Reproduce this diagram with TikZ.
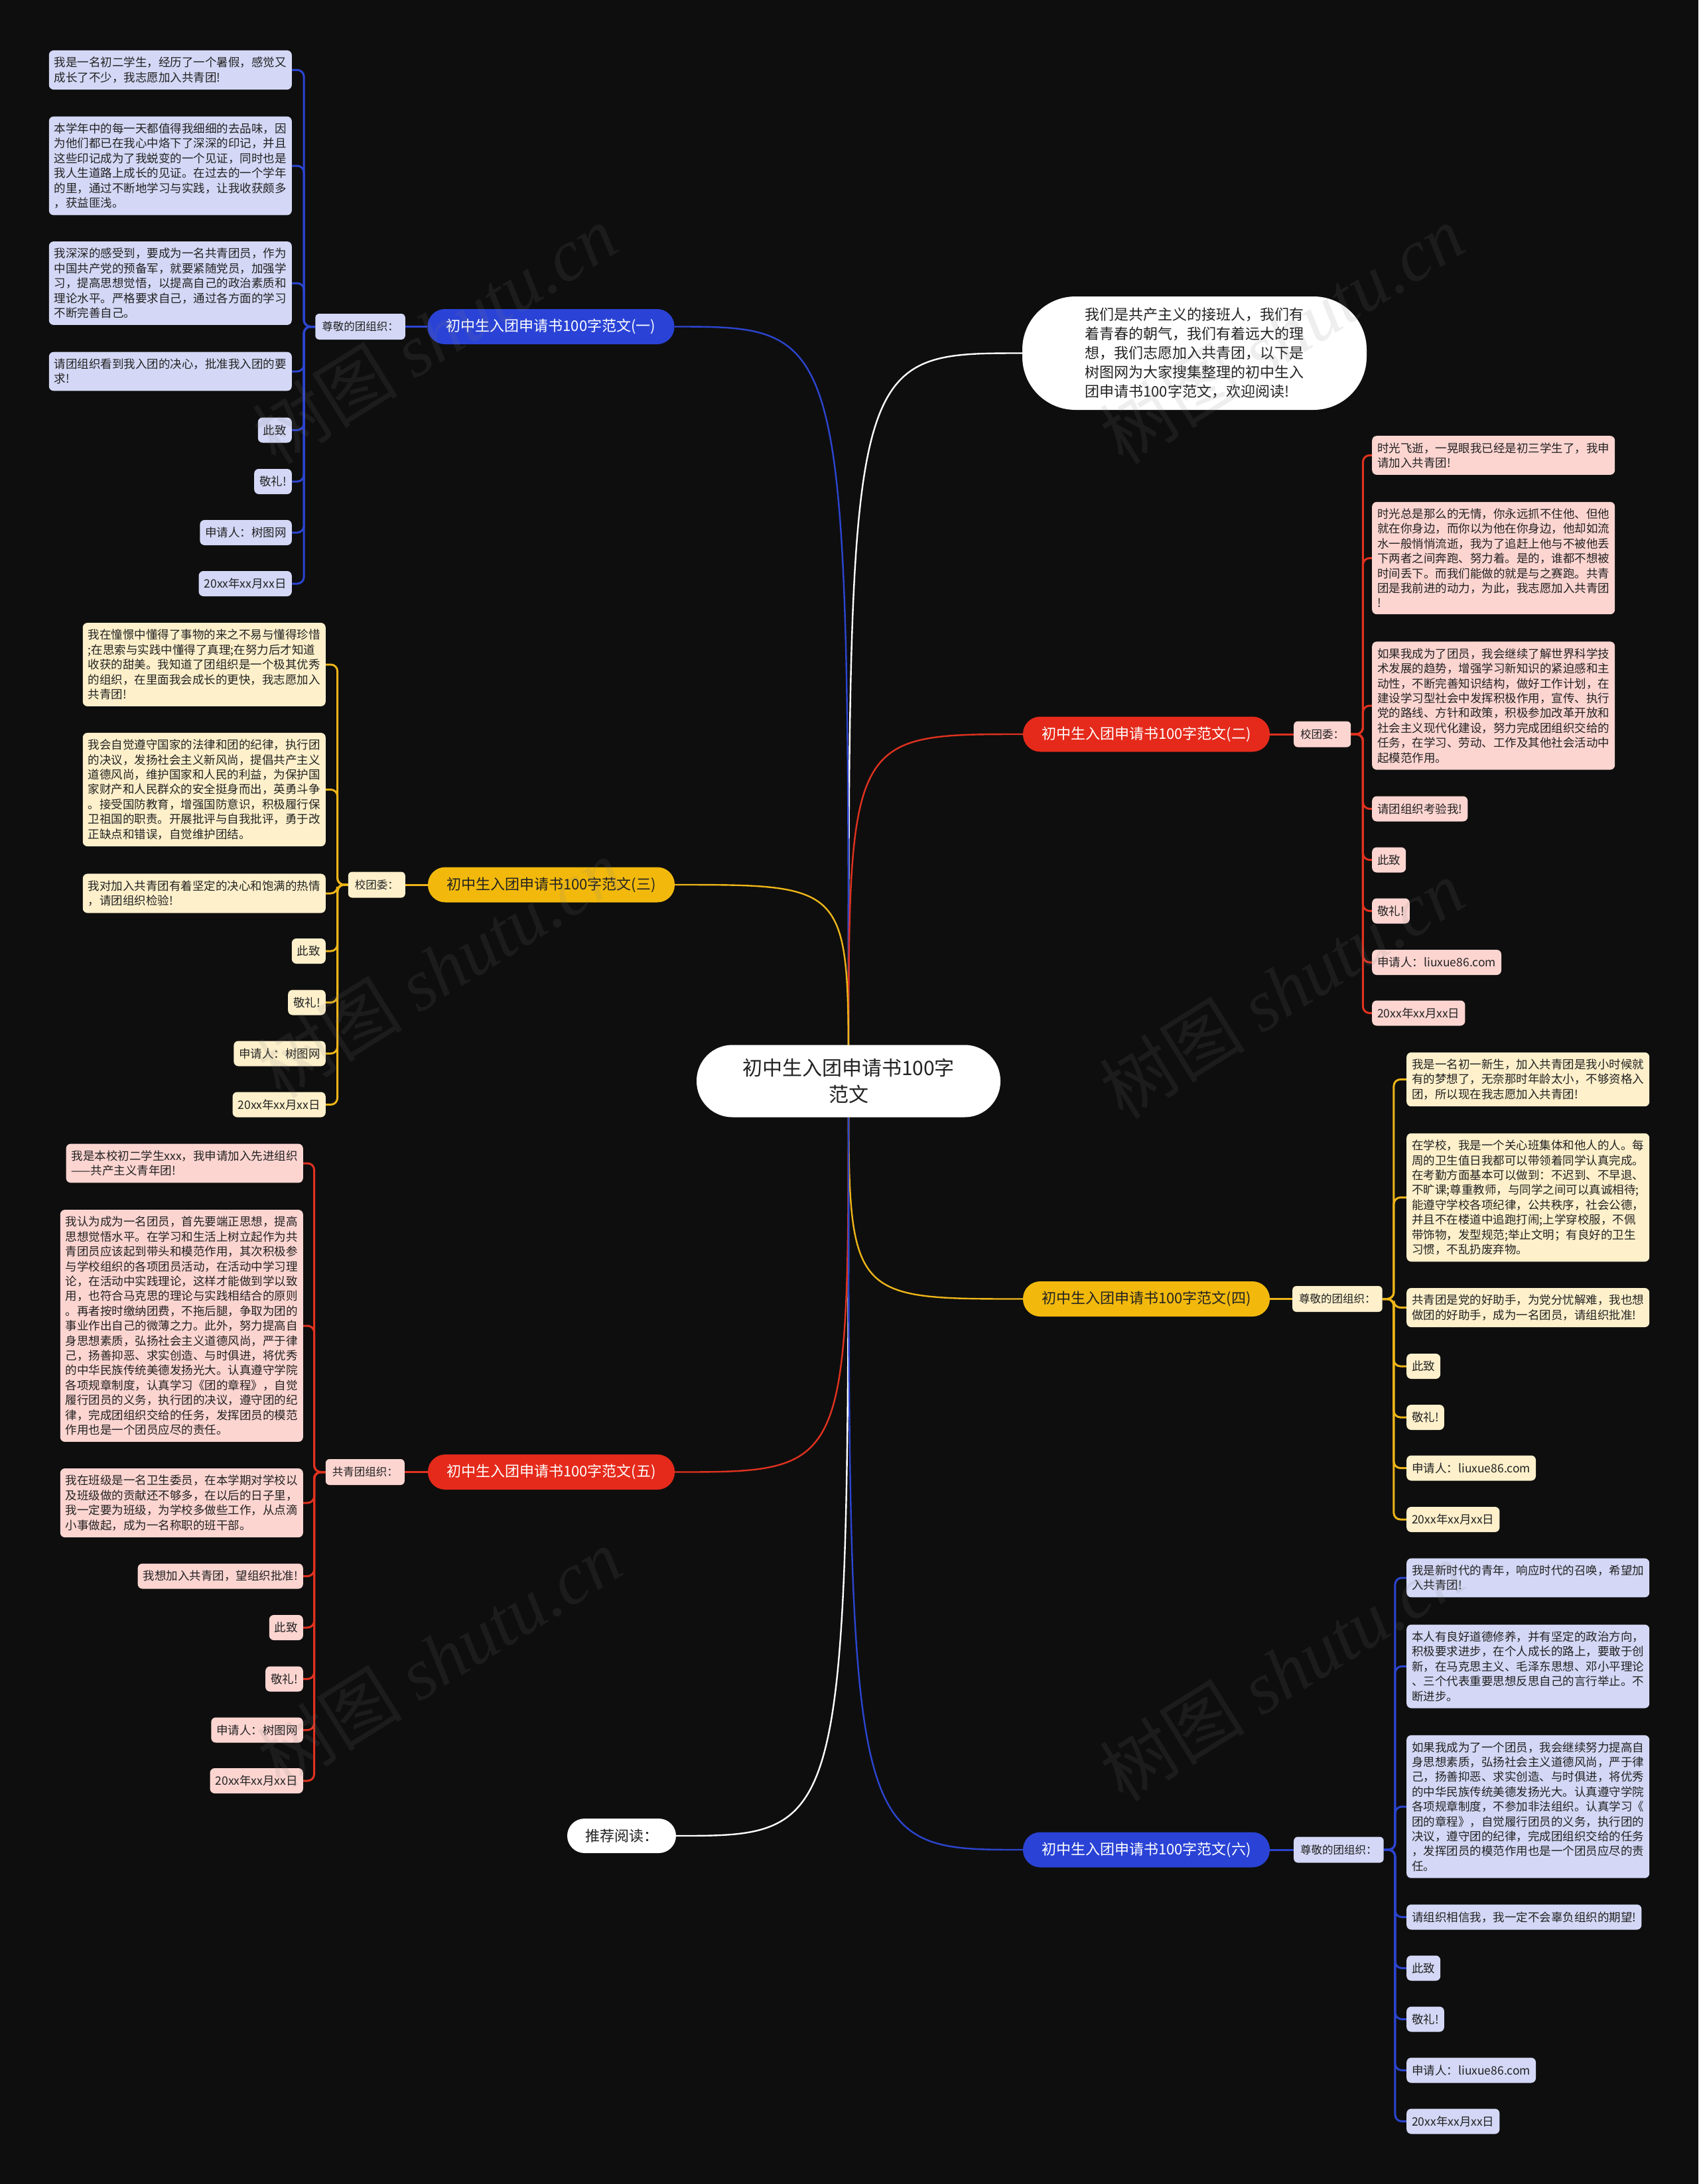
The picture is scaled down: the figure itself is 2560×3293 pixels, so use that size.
\documentclass[tikz,border=0pt]{standalone}
\usepackage{fontspec}
\setmainfont{Noto Sans CJK SC}
\newfontfamily\wmlatin{Liberation Serif}
\usetikzlibrary{calc}
\pgfdeclarelayer{bgl}
\pgfdeclarelayer{edgel}
\pgfdeclarelayer{wml}
\pgfsetlayers{bgl,edgel,main,wml}
\definecolor{bgc}{HTML}{0E0E0E}
\definecolor{bcol}{HTML}{2A43D6}
\definecolor{bline}{HTML}{2C45D0}
\definecolor{bfill}{HTML}{D4D8F6}
\definecolor{rcol}{HTML}{E52A1B}
\definecolor{rline}{HTML}{E0321F}
\definecolor{rfill}{HTML}{FCD5D1}
\definecolor{ycol}{HTML}{F2B90C}
\definecolor{yline}{HTML}{EDB518}
\definecolor{yfill}{HTML}{FDF0CB}
\definecolor{txt}{HTML}{222222}
\newcommand\lffont{\fontsize{17.5}{22.4}\selectfont}
\newcommand\sbfont{\fontsize{16.5}{20}\selectfont}
\newcommand\brfont{\fontsize{22}{26}\selectfont}
\newcommand\cnfont{\fontsize{30}{40}\selectfont}
\newcommand\infont{\fontsize{22}{29}\selectfont}
\newcommand\wmsize{\fontsize{110}{110}\selectfont}
\tikzset{
  leaf/.style={rounded corners=7, inner xsep=8, inner ysep=10, minimum height=38, align=left, font=\lffont, text=txt},
  bleaf/.style={leaf, fill=bfill},
  rleaf/.style={leaf, fill=rfill},
  yleaf/.style={leaf, fill=yfill},
  sub/.style={rounded corners=6, inner xsep=10, inner ysep=8, minimum height=39, font=\sbfont, text=txt},
  br/.style={rounded corners=26, minimum width=372, minimum height=53, font=\brfont},
  mline/.style={line width=2.4},
  lline/.style={line width=3, rounded corners=10},
  wm/.style={text=gray, opacity=0.13, rotate=32, font=\wmsize}
}
\begin{document}
\begin{tikzpicture}[x=1pt,y=-1pt]
\useasboundingbox (0,0) rectangle (2560,3293);
\begin{pgfonlayer}{bgl}
\fill[bgc] (0,0) rectangle (2560,3293);
\end{pgfonlayer}

% center, intro, recommended
\node[fill=white, rounded corners=54, minimum width=458, minimum height=109, align=center, font=\cnfont, text=txt] (c) at (1279,1630) {初中生入团申请书100字\\范文};
\node[fill=white, rounded corners=80, minimum width=519, minimum height=171, align=left, font=\infont, text=txt] (intro) at (1800.5,532.5) {我们是共产主义的接班人，我们有\\着青春的朝气，我们有着远大的理\\想，我们志愿加入共青团，以下是\\树图网为大家搜集整理的初中生入\\团申请书100字范文，欢迎阅读!};
\node[fill=white, rounded corners=26, minimum width=164, minimum height=52, font=\brfont, text=txt] (rec) at (937,2768) {推荐阅读：};

% branches
\node[br, fill=bcol, text=white] (b1) at (830.5,492.5) {初中生入团申请书100字范文(一)};
\node[br, fill=rcol, text=white] (b2) at (1728,1107) {初中生入团申请书100字范文(二)};
\node[br, fill=ycol, text=txt] (b3) at (831,1334) {初中生入团申请书100字范文(三)};
\node[br, fill=ycol, text=txt] (b4) at (1728,1958.5) {初中生入团申请书100字范文(四)};
\node[br, fill=rcol, text=white] (b5) at (831,2219.5) {初中生入团申请书100字范文(五)};
\node[br, fill=bcol, text=white] (b6) at (1728,2789) {初中生入团申请书100字范文(六)};

% sub nodes
\node[sub, fill=bfill, anchor=east] (s1) at (611,492.5) {尊敬的团组织：};
\node[sub, fill=rfill, anchor=west] (s2) at (1950,1107) {校团委：};
\node[sub, fill=yfill, anchor=east] (s3) at (611,1334) {校团委：};
\node[sub, fill=yfill, anchor=west] (s4) at (1948,1958.5) {尊敬的团组织：};
\node[sub, fill=rfill, anchor=east] (s5) at (610,2219.5) {共青团组织：};
\node[sub, fill=bfill, anchor=west] (s6) at (1950,2789) {尊敬的团组织：};

% branch (一)
\node[bleaf, anchor=east] (a1) at (440,105.5) {我是一名初二学生，经历了一个暑假，感觉又\\成长了不少，我志愿加入共青团!};
\node[bleaf, anchor=east] (a2) at (440,250) {本学年中的每一天都值得我细细的去品味，因\\为他们都已在我心中烙下了深深的印记，并且\\这些印记成为了我蜕变的一个见证，同时也是\\我人生道路上成长的见证。在过去的一个学年\\的里，通过不断地学习与实践，让我收获颇多\\，获益匪浅。};
\node[bleaf, anchor=east] (a3) at (440,427) {我深深的感受到，要成为一名共青团员，作为\\中国共产党的预备军，就要紧随党员，加强学\\习，提高思想觉悟，以提高自己的政治素质和\\理论水平。严格要求自己，通过各方面的学习\\不断完善自己。};
\node[bleaf, anchor=east] (a4) at (440,560) {请团组织看到我入团的决心，批准我入团的要\\求!};
\node[bleaf, anchor=east] (a5) at (440,648.5) {此致};
\node[bleaf, anchor=east] (a6) at (440,726) {敬礼!};
\node[bleaf, anchor=east] (a7) at (440,803) {申请人：树图网};
\node[bleaf, anchor=east] (a8) at (440,880) {20xx年xx月xx日};

% branch (三)
\node[yleaf, anchor=east] (c1) at (491,1002) {我在憧憬中懂得了事物的来之不易与懂得珍惜\\;在思索与实践中懂得了真理;在努力后才知道\\收获的甜美。我知道了团组织是一个极其优秀\\的组织，在里面我会成长的更快，我志愿加入\\共青团!};
\node[yleaf, anchor=east] (c2) at (491,1190.5) {我会自觉遵守国家的法律和团的纪律，执行团\\的决议，发扬社会主义新风尚，提倡共产主义\\道德风尚，维护国家和人民的利益，为保护国\\家财产和人民群众的安全挺身而出，英勇斗争\\。接受国防教育，增强国防意识，积极履行保\\卫祖国的职责。开展批评与自我批评，勇于改\\正缺点和错误，自觉维护团结。};
\node[yleaf, anchor=east] (c3) at (491,1347) {我对加入共青团有着坚定的决心和饱满的热情\\，请团组织检验!};
\node[yleaf, anchor=east] (c4) at (491,1434) {此致};
\node[yleaf, anchor=east] (c5) at (491,1511.5) {敬礼!};
\node[yleaf, anchor=east] (c6) at (491,1588.5) {申请人：树图网};
\node[yleaf, anchor=east] (c7) at (491,1665.5) {20xx年xx月xx日};

% branch (五)
\node[rleaf, anchor=east] (e1) at (457,1754) {我是本校初二学生xxx，我申请加入先进组织\\——共产主义青年团!};
\node[rleaf, anchor=east] (e2) at (457,1999) {我认为成为一名团员，首先要端正思想，提高\\思想觉悟水平。在学习和生活上树立起作为共\\青团员应该起到带头和模范作用，其次积极参\\与学校组织的各项团员活动，在活动中学习理\\论，在活动中实践理论，这样才能做到学以致\\用，也符合马克思的理论与实践相结合的原则\\。再者按时缴纳团费，不拖后腿，争取为团的\\事业作出自己的微薄之力。此外，努力提高自\\身思想素质，弘扬社会主义道德风尚，严于律\\己，扬善抑恶、求实创造、与时俱进，将优秀\\的中华民族传统美德发扬光大。认真遵守学院\\各项规章制度，认真学习《团的章程》，自觉\\履行团员的义务，执行团的决议，遵守团的纪\\律，完成团组织交给的任务，发挥团员的模范\\作用也是一个团员应尽的责任。};
\node[rleaf, anchor=east] (e3) at (457,2266) {我在班级是一名卫生委员，在本学期对学校以\\及班级做的贡献还不够多，在以后的日子里，\\我一定要为班级，为学校多做些工作，从点滴\\小事做起，成为一名称职的班干部。};
\node[rleaf, anchor=east] (e4) at (457,2376.5) {我想加入共青团，望组织批准!};
\node[rleaf, anchor=east] (e5) at (457,2454) {此致};
\node[rleaf, anchor=east] (e6) at (457,2531.5) {敬礼!};
\node[rleaf, anchor=east] (e7) at (457,2608.5) {申请人：树图网};
\node[rleaf, anchor=east] (e8) at (457,2685) {20xx年xx月xx日};

% branch (二)
\node[rleaf, anchor=west] (f1) at (2068,686.5) {时光飞逝，一晃眼我已经是初三学生了，我申\\请加入共青团!};
\node[rleaf, anchor=west] (f2) at (2068,841.5) {时光总是那么的无情，你永远抓不住他、但他\\就在你身边，而你以为他在你身边，他却如流\\水一般悄悄流逝，我为了追赶上他与不被他丢\\下两者之间奔跑、努力着。是的，谁都不想被\\时间丢下。而我们能做的就是与之赛跑。共青\\团是我前进的动力，为此，我志愿加入共青团\\!};
\node[rleaf, anchor=west] (f3) at (2068,1064) {如果我成为了团员，我会继续了解世界科学技\\术发展的趋势，增强学习新知识的紧迫感和主\\动性，不断完善知识结构，做好工作计划，在\\建设学习型社会中发挥积极作用，宣传、执行\\党的路线、方针和政策，积极参加改革开放和\\社会主义现代化建设，努力完成团组织交给的\\任务，在学习、劳动、工作及其他社会活动中\\起模范作用。};
\node[rleaf, anchor=west] (f4) at (2068,1219.5) {请团组织考验我!};
\node[rleaf, anchor=west] (f5) at (2068,1296.5) {此致};
\node[rleaf, anchor=west] (f6) at (2068,1373.5) {敬礼!};
\node[rleaf, anchor=west] (f7) at (2068,1451) {申请人：liuxue86.com};
\node[rleaf, anchor=west] (f8) at (2068,1527.5) {20xx年xx月xx日};

% branch (四)
\node[yleaf, anchor=west] (g1) at (2120,1627.5) {我是一名初一新生，加入共青团是我小时候就\\有的梦想了，无奈那时年龄太小，不够资格入\\团，所以现在我志愿加入共青团!};
\node[yleaf, anchor=west] (g2) at (2120,1805.5) {在学校，我是一个关心班集体和他人的人。每\\周的卫生值日我都可以带领着同学认真完成。\\在考勤方面基本可以做到：不迟到、不早退、\\不旷课;尊重教师，与同学之间可以真诚相待;\\能遵守学校各项纪律，公共秩序，社会公德，\\并且不在楼道中追跑打闹;上学穿校服，不佩\\带饰物，发型规范;举止文明；有良好的卫生\\习惯，不乱扔废弃物。};
\node[yleaf, anchor=west] (g3) at (2120,1971.5) {共青团是党的好助手，为党分忧解难，我也想\\做团的好助手，成为一名团员，请组织批准!};
\node[yleaf, anchor=west] (g4) at (2120,2060) {此致};
\node[yleaf, anchor=west] (g5) at (2120,2137) {敬礼!};
\node[yleaf, anchor=west] (g6) at (2120,2213.5) {申请人：liuxue86.com};
\node[yleaf, anchor=west] (g7) at (2120,2291) {20xx年xx月xx日};

% branch (六)
\node[bleaf, anchor=west] (h1) at (2120,2379) {我是新时代的青年，响应时代的召唤，希望加\\入共青团!};
\node[bleaf, anchor=west] (h2) at (2120,2512.5) {本人有良好道德修养，并有坚定的政治方向，\\积极要求进步，在个人成长的路上，要敢于创\\新，在马克思主义、毛泽东思想、邓小平理论\\、三个代表重要思想反思自己的言行举止。不\\断进步。};
\node[bleaf, anchor=west] (h3) at (2120,2724) {如果我成为了一个团员，我会继续努力提高自\\身思想素质，弘扬社会主义道德风尚，严于律\\己，扬善抑恶、求实创造、与时俱进，将优秀\\的中华民族传统美德发扬光大。认真遵守学院\\各项规章制度，不参加非法组织。认真学习《\\团的章程》，自觉履行团员的义务，执行团的\\决议，遵守团的纪律，完成团组织交给的任务\\，发挥团员的模范作用也是一个团员应尽的责\\任。};
\node[bleaf, anchor=west] (h4) at (2120,2890.5) {请组织相信我，我一定不会辜负组织的期望!};
\node[bleaf, anchor=west] (h5) at (2120,2967.5) {此致};
\node[bleaf, anchor=west] (h6) at (2120,3044.5) {敬礼!};
\node[bleaf, anchor=west] (h7) at (2120,3121.5) {申请人：liuxue86.com};
\node[bleaf, anchor=west] (h8) at (2120,3198.5) {20xx年xx月xx日};

% connectors
\begin{pgfonlayer}{edgel}
\draw[mline, white] (c.center) .. controls (c.center |- intro.west) .. (intro.west);
\draw[mline, white] (c.center) .. controls (c.center |- rec.east) .. (rec.east);
\draw[mline, bline] (c.center) .. controls (c.center |- b1.east) .. (b1.east);
\draw[mline, rline] (c.center) .. controls (c.center |- b2.west) .. (b2.west);
\draw[mline, yline] (c.center) .. controls (c.center |- b3.east) .. (b3.east);
\draw[mline, yline] (c.center) .. controls (c.center |- b4.west) .. (b4.west);
\draw[mline, rline] (c.center) .. controls (c.center |- b5.east) .. (b5.east);
\draw[mline, bline] (c.center) .. controls (c.center |- b6.west) .. (b6.west);
\draw[lline, bline] (b1.west) -- (s1.east);
\draw[lline, rline] (b2.east) -- (s2.west);
\draw[lline, yline] (b3.west) -- (s3.east);
\draw[lline, yline] (b4.east) -- (s4.west);
\draw[lline, rline] (b5.west) -- (s5.east);
\draw[lline, bline] (b6.east) -- (s6.west);
\foreach \n in {a1,a2,a3,a4,a5,a6,a7,a8} \draw[lline, bline] (s1.west) -- ++(-17,0) |- (\n.east);
\foreach \n in {c1,c2,c3,c4,c5,c6,c7} \draw[lline, yline] (s3.west) -- ++(-16,0) |- (\n.east);
\foreach \n in {e1,e2,e3,e4,e5,e6,e7,e8} \draw[lline, rline] (s5.west) -- ++(-17,0) |- (\n.east);
\foreach \n in {f1,f2,f3,f4,f5,f6,f7,f8} \draw[lline, rline] (s2.east) -- ++(18,0) |- (\n.west);
\foreach \n in {g1,g2,g3,g4,g5,g6,g7} \draw[lline, yline] (s4.east) -- ++(17,0) |- (\n.west);
\foreach \n in {h1,h2,h3,h4,h5,h6,h7,h8} \draw[lline, bline] (s6.east) -- ++(17,0) |- (\n.west);
\end{pgfonlayer}

% watermarks
\begin{pgfonlayer}{wml}
\node[wm] (w1) at (655,504) {树图 {\wmlatin\itshape shutu.cn}};
\node[wm] (w2) at (1932,504) {树图 {\wmlatin\itshape shutu.cn}};
\node[wm] (w3) at (662,1460) {树图 {\wmlatin\itshape shutu.cn}};
\node[wm] (w4) at (1932,1491) {树图 {\wmlatin\itshape shutu.cn}};
\node[wm] (w5) at (662,2499) {树图 {\wmlatin\itshape shutu.cn}};
\node[wm] (w6) at (1932,2520) {树图 {\wmlatin\itshape shutu.cn}};
\end{pgfonlayer}
\end{tikzpicture}
\end{document}
